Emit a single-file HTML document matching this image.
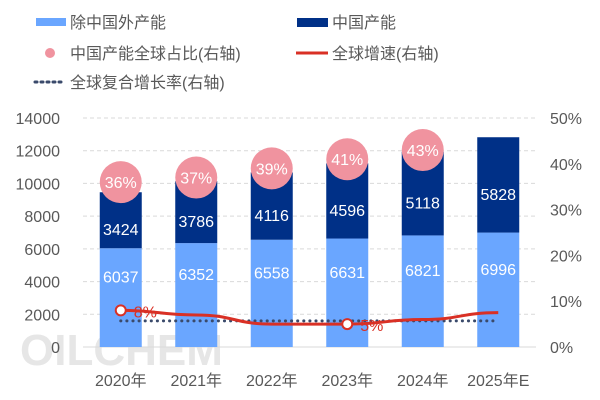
<!DOCTYPE html>
<html><head><meta charset="utf-8"><style>
body{margin:0;background:#fff;}
svg{display:block;font-family:"Liberation Sans","Noto Sans CJK SC",sans-serif;}
</style></head><body>
<svg id="c" width="600" height="400" viewBox="0 0 600 400">
<g font-size="16" fill="#595959">
 <g><rect x="36" y="18" width="30" height="8" fill="#6aa6ff"/><text x="70" y="28">除中国外产能</text></g>
 <g><rect x="297" y="18" width="31" height="9" fill="#003087"/><text x="332" y="28">中国产能</text></g>
 <g><circle cx="50" cy="53" r="5" fill="#f0939f"/><text x="70" y="59">中国产能全球占比(右轴)</text></g>
 <g><line x1="296" y1="53" x2="328" y2="53" stroke="#d93025" stroke-width="3"/><text x="332" y="59">全球增速(右轴)</text></g>
 <g><line x1="35" y1="82" x2="65" y2="82" stroke="#3a4a6b" stroke-width="3" stroke-dasharray="2,4" stroke-linecap="round"/><text x="70" y="88">全球复合增长率(右轴)</text></g>
</g>
<text x="20" y="365" font-size="44" font-weight="bold" fill="#e6e6e6">OILCHEM</text>
<g id="plot"></g>
</svg>
<script>
const categories=["2020年","2021年","2022年","2023年","2024年","2025年E"];
const nonChina=[6037,6352,6558,6631,6821,6996];
const china=[3424,3786,4116,4596,5118,5828];
const chinaShare=[36,37,39,41,43,null];
const growth=[8,7,5,5,6,7.5];
const cagr=[5.7,5.7,5.7,5.7,5.7,5.7];
const leftTicks=[0,2000,4000,6000,8000,10000,12000,14000];
const rightTicks=[0,10,20,30,40,50];

const NS="http://www.w3.org/2000/svg";
const g=document.getElementById('plot');
const X0=83,X1=536,Y0=347,Y1=118;
const yL=v=>Y0-(v/14000)*(Y0-Y1);
const yR=v=>Y0-(v/50)*(Y0-Y1);
const step=(X1-X0)/categories.length;
const xC=i=>X0+step*(i+0.5);
const BW=42;
function el(t,a,p){const e=document.createElementNS(NS,t);for(const k in a)e.setAttribute(k,a[k]);(p||g).appendChild(e);return e;}
leftTicks.forEach(v=>{
 if(v>0){const l=el('line',{x1:X0,x2:X1,y1:yL(v),y2:yL(v),stroke:'#d9d9d9','stroke-dasharray':'4,3'});
 
 }
 const t=el('text',{x:60,y:yL(v)+6,'text-anchor':'end','font-size':16,fill:'#595959'});t.textContent=v;
 
 
});
rightTicks.forEach(v=>{
 const t=el('text',{x:550,y:yR(v)+6,'font-size':16,fill:'#595959'});t.textContent=v+'%';
 
 
});
const ax=el('line',{x1:X0,x2:X1,y1:Y0,y2:Y0,stroke:'#d9d9d9'});


categories.forEach((c,i)=>{
 const x=xC(i);
 const b1=el('rect',{x:x-BW/2,y:yL(nonChina[i]),width:BW,height:Y0-yL(nonChina[i]),fill:'#6aa6ff'});
 
 
 const top=nonChina[i]+china[i];
 const b2=el('rect',{x:x-BW/2,y:yL(top),width:BW,height:yL(nonChina[i])-yL(top),fill:'#003087'});
 
 
 const t1=el('text',{x:x,y:(yL(nonChina[i])+Y0)/2-15,'text-anchor':'middle','font-size':16,fill:'#fff'});t1.textContent=nonChina[i];
 
 
 const t2=el('text',{x:x,y:(yL(nonChina[i])+yL(top))/2+15,'text-anchor':'middle','font-size':16,fill:'#fff'});t2.textContent=china[i];
 
 
 const tl=el('text',{x:x,y:386,'text-anchor':'middle','font-size':16,fill:'#595959'});tl.textContent=c;
 
 
});
chinaShare.forEach((v,i)=>{
 if(v==null)return;
 const c=el('circle',{cx:xC(i),cy:yR(v),r:21,fill:'#f0939f'});
 
 
 const t=el('text',{x:xC(i),y:yR(v)+6,'text-anchor':'middle','font-size':16,fill:'#fff'});t.textContent=v+'%';
 
 
});
const cg=el('polyline',{points:cagr.map((v,i)=>xC(i)+','+yR(v)).join(' '),fill:'none',stroke:'#3a4a6b','stroke-width':3,'stroke-dasharray':'0.1,6','stroke-linecap':'round'});


let d='M'+xC(0)+','+yR(growth[0]);
for(let i=1;i<growth.length;i++){const xa=xC(i-1),xb=xC(i),ya=yR(growth[i-1]),yb=yR(growth[i]);d+=` C${xa+step/2},${ya} ${xb-step/2},${yb} ${xb},${yb}`;}
const gl=el('path',{d:d,fill:'none',stroke:'#d93025','stroke-width':3});


[0,3].forEach(i=>{
 const m=el('circle',{cx:xC(i),cy:yR(growth[i]),r:5,fill:'#fff',stroke:'#d93025','stroke-width':2});
 
 
 const t=el('text',{x:xC(i)+13,y:yR(growth[i])+7,'font-size':16,fill:'#d93025'});t.textContent=Math.round(growth[i])+'%';
 
 
});
</script>
</body></html>
